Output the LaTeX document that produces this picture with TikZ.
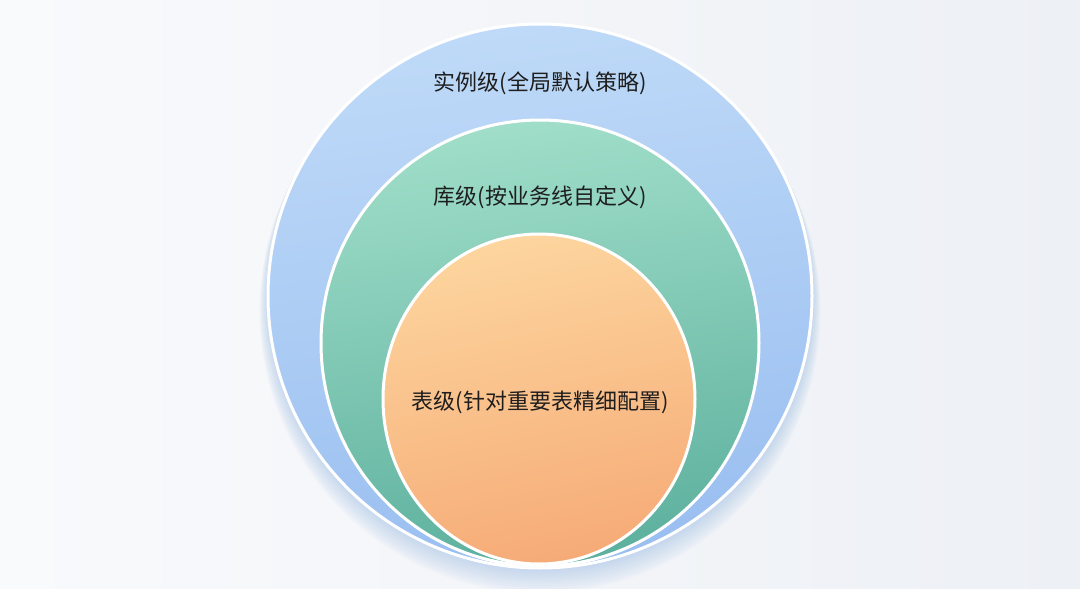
\documentclass[tikz,border=0pt]{standalone}
\usepackage{fontspec}
\setmainfont{Noto Sans CJK SC}
\usetikzlibrary{shapes.geometric}
\definecolor{bgL}{HTML}{F9FAFC}
\definecolor{bgR}{HTML}{EDF0F5}
\definecolor{shad}{HTML}{8FB6EE}
\definecolor{blueT}{HTML}{BFDAF8}
\definecolor{blueB}{HTML}{99BEF0}
\definecolor{greenT}{HTML}{A0DEC9}
\definecolor{greenB}{HTML}{5DB09E}
\definecolor{orangeT}{HTML}{FDD59E}
\definecolor{orangeB}{HTML}{F6AB77}
\definecolor{txt}{HTML}{1E1E1E}
\tikzset{
  ring/.style={ellipse, draw=white, line width=3pt, inner sep=0pt, outer sep=0pt},
  lbl/.style={text=txt, font=\fontsize{22pt}{26pt}\selectfont, inner sep=0pt}
}
\begin{document}
\begin{tikzpicture}[x=1pt,y=-1pt]
\shade[left color=bgL, right color=bgR] (0,0) rectangle (1080,589);
\useasboundingbox (0,0) rectangle (1080,589);
\foreach \k in {1,...,14}
  \fill[shad, opacity=0.035] (540,{296+\k*1.1}) ellipse ({272+\k*0.6} and {272+\k*0.7});
\node[ring, minimum width=544pt, minimum height=544pt, top color=blueT, bottom color=blueB, shading angle=8] (outer) at (540,296) {};
\node[ring, minimum width=438pt, minimum height=446pt, top color=greenT, bottom color=greenB, shading angle=8] (middle) at (540,343) {};
\node[ring, minimum width=312pt, minimum height=330pt, top color=orangeT, bottom color=orangeB, shading angle=12] (inner) at (539,399) {};
\node[lbl] (t1) at (540,83) {实例级(全局默认策略)};
\node[lbl] (t2) at (540,197) {库级(按业务线自定义)};
\node[lbl] (t3) at (540,402) {表级(针对重要表精细配置)};
\end{tikzpicture}
\end{document}
